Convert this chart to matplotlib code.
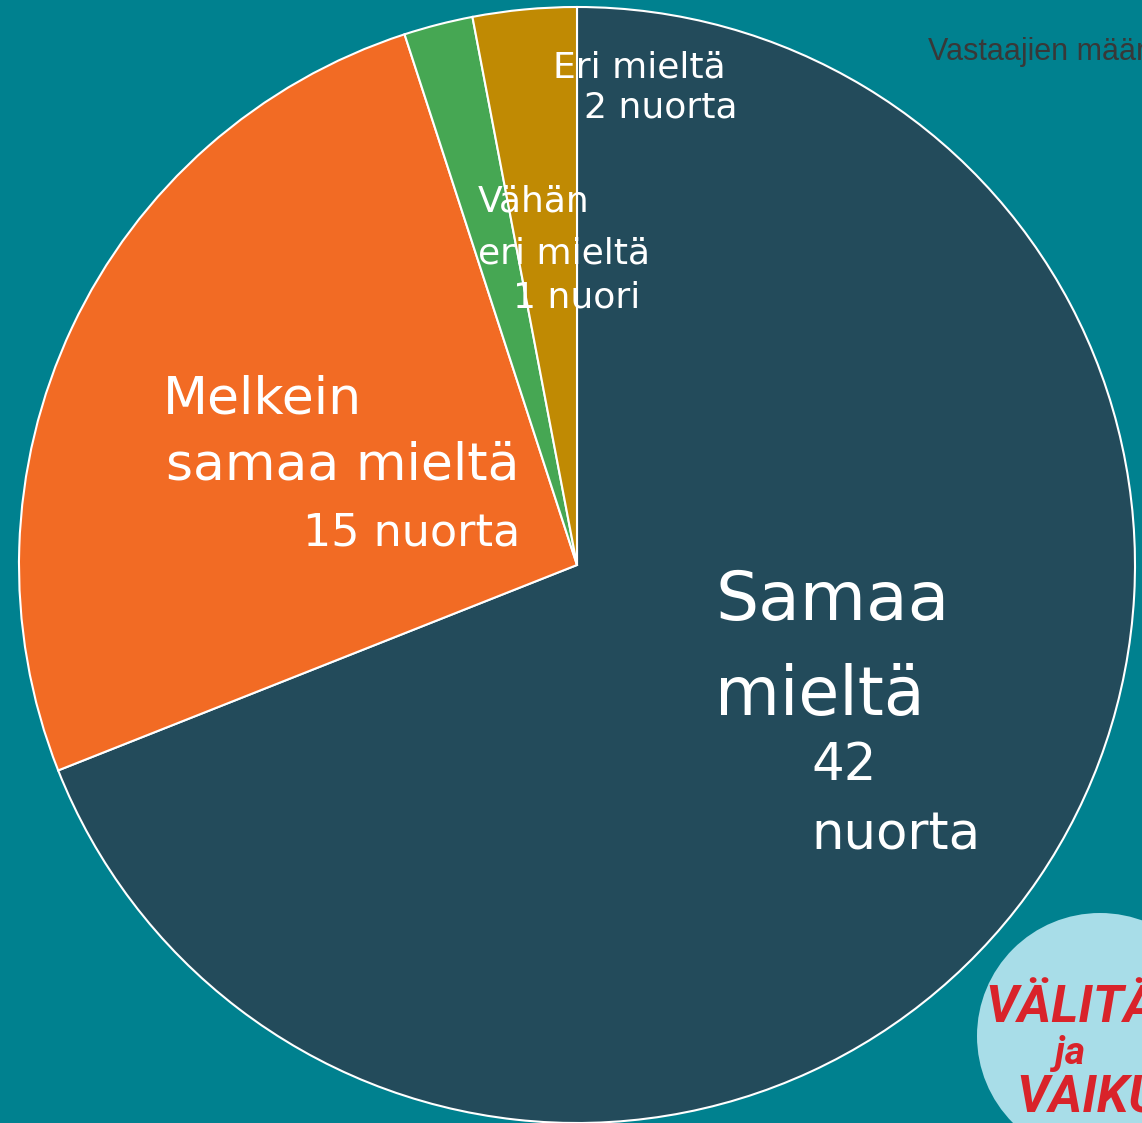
import matplotlib
matplotlib.use("Agg")
import matplotlib.pyplot as plt
from matplotlib.patches import Circle

categories = ["Samaa mieltä", "Melkein samaa mieltä", "Vähän eri mieltä", "Eri mieltä"]
shares = [69, 26, 2, 3]          # slice sizes (percent)
counts = [42, 15, 1, 2]          # respondents shown in labels
colors = ["#234B5B", "#F26B24", "#46A753", "#C08A03"]

W, H = 1142, 1123
BG = "#00818F"
fig = plt.figure(figsize=(W / 100, H / 100), dpi=100, facecolor=BG)
ax = fig.add_axes([0, 0, 1, 1])
ax.set_facecolor(BG)

def Y(py):
    return H - py

ax.pie(shares, colors=colors, startangle=90, counterclock=False,
       center=(577, Y(565)), radius=558,
       wedgeprops=dict(edgecolor="white", linewidth=1.5))
ax.set_xlim(0, W)
ax.set_ylim(0, H)
ax.set_aspect("auto")
ax.axis("off")

FONT = ["DejaVu Sans"]

def txt(x, y, s, size, ha="left", color="white", **kw):
    ax.text(x, Y(y), s, fontsize=size, ha=ha, va="baseline", color=color,
            family=FONT, **kw)

# Samaa mieltä
txt(715, 620, "Samaa", 49)
txt(715, 715, "mieltä", 48)
txt(811, 780, f"{counts[0]}", 37)
txt(811, 850, "nuorta", 37)

# Melkein samaa mieltä
txt(163, 413, "Melkein", 37.5)
txt(520, 480, "samaa mieltä", 37.5, ha="right")
txt(520, 545, f"{counts[1]} nuorta", 32, ha="right")

# Vähän eri mieltä
txt(478, 212, "Vähän", 26)
txt(478, 263, "eri mieltä", 26)
txt(640, 307, f"{counts[2]} nuori", 26, ha="right")

# Eri mieltä
txt(553, 77, "Eri mieltä", 26)
txt(737, 118, f"{counts[3]} nuorta", 26, ha="right")

# Axis title fragment (cut at the right edge, as in the original)
ax.text(928, Y(60), "Vastaajien määrä", fontsize=22, ha="left", va="baseline",
        color="#383838", family=["Liberation Sans", "DejaVu Sans"])

# Logo
ax.add_patch(Circle((1100, Y(1036)), 123, facecolor="#A8DDE8", edgecolor="none", zorder=3))
logo_font = ["Roboto", "DejaVu Sans"]
ax.text(985, Y(1022), "VÄLITÄ", fontsize=37, ha="left", va="baseline", color="#D9232A",
        family=logo_font, fontweight="bold", style="italic", zorder=4)
ax.text(1070, Y(1064), "ja", fontsize=28, ha="center", va="baseline", color="#D9232A",
        family=logo_font, fontweight="bold", style="italic", zorder=4)
ax.text(1016, Y(1112), "VAIKUTA", fontsize=37, ha="left", va="baseline", color="#D9232A",
        family=logo_font, fontweight="bold", style="italic", zorder=4)

fig.savefig("out.png", dpi=100, facecolor=BG)
